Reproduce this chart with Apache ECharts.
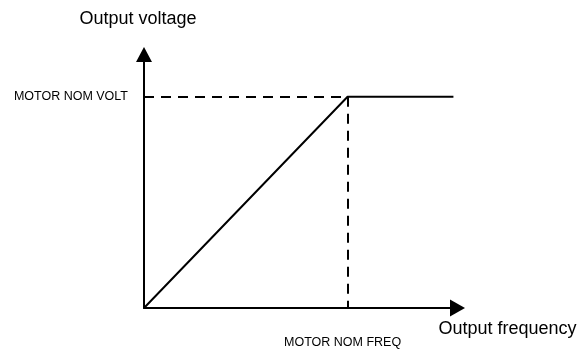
<!DOCTYPE html>
<html>
<head>
<meta charset="utf-8">
<title>V/f characteristic</title>
<script src="https://cdn.jsdelivr.net/npm/echarts@6/dist/echarts.min.js"></script>
<style>
  html, body { margin: 0; padding: 0; background: #ffffff; }
  #chart { width: 581px; height: 349px; }
</style>
</head>
<body>
<div id="chart"></div>
<script>
// V/f curve: voltage rises linearly with frequency up to the motor's
// nominal point, then stays constant above it.
const nomFreq = 50;          // Hz
const nomVolt = 400;         // V
const freqs = [0, nomFreq, 76];
const volts = [0, nomVolt, nomVolt];

const xLabel = 'MOTOR NOM FREQ';
const yLabel = 'MOTOR NOM VOLT';
const xName = 'Output frequency';
const yName = 'Output voltage';

const FONT = '"Liberation Sans", Arial, sans-serif';
const INK = '#000000';

const chart = echarts.init(document.getElementById('chart'), null, { renderer: 'canvas' });

chart.setOption({
  animation: false,
  backgroundColor: '#ffffff',
  grid: { left: 144, top: 54.5, right: 123.5, bottom: 41, containLabel: false },
  xAxis: {
    type: 'value',
    min: 0,
    max: 77,
    interval: nomFreq,
    name: xName,
    nameLocation: 'end',
    nameGap: 50,
    nameTextStyle: {
      fontFamily: FONT, fontSize: 18, color: INK,
      align: 'center', verticalAlign: 'top', padding: [12, 0, 0, 0]
    },
    axisLine: {
      show: true,
      symbol: ['none', 'triangle'],
      symbolSize: [17, 15],
      lineStyle: { color: INK, width: 2 }
    },
    axisTick: { show: false },
    splitLine: { show: false },
    axisLabel: {
      show: true,
      margin: 28,
      fontFamily: FONT, fontSize: 12.5, color: INK,
      padding: [0, 10, 0, 0],
      showMinLabel: false,
      showMaxLabel: false,
      formatter: (v) => (v === nomFreq ? xLabel : '')
    }
  },
  yAxis: {
    type: 'value',
    min: 0,
    max: 480,
    interval: nomVolt,
    name: yName,
    nameLocation: 'end',
    nameGap: 26,
    nameTextStyle: {
      fontFamily: FONT, fontSize: 18, color: INK,
      align: 'center', verticalAlign: 'bottom', padding: [0, 12, 0, 0]
    },
    axisLine: {
      show: true,
      symbol: ['none', 'triangle'],
      symbolSize: [16, 15],
      lineStyle: { color: INK, width: 2 }
    },
    axisTick: { show: false },
    splitLine: { show: false },
    axisLabel: {
      show: true,
      margin: 16,
      fontFamily: FONT, fontSize: 12.5, color: INK,
      showMinLabel: false,
      showMaxLabel: false,
      formatter: (v) => (v === nomVolt ? yLabel : '')
    }
  },
  series: [
    {
      type: 'line',
      data: freqs.map((f, i) => [f, volts[i]]),
      showSymbol: false,
      symbol: 'none',
      lineStyle: { color: INK, width: 2 },
      z: 3,
      markLine: {
        silent: true,
        symbol: ['none', 'none'],
        label: { show: false },
        lineStyle: { color: INK, width: 2, type: [10, 7] },
        data: [
          [{ coord: [0, nomVolt] }, { coord: [nomFreq, nomVolt] }],
          [{ coord: [nomFreq, nomVolt] }, { coord: [nomFreq, 0] }]
        ]
      }
    }
  ]
});
</script>
</body>
</html>
